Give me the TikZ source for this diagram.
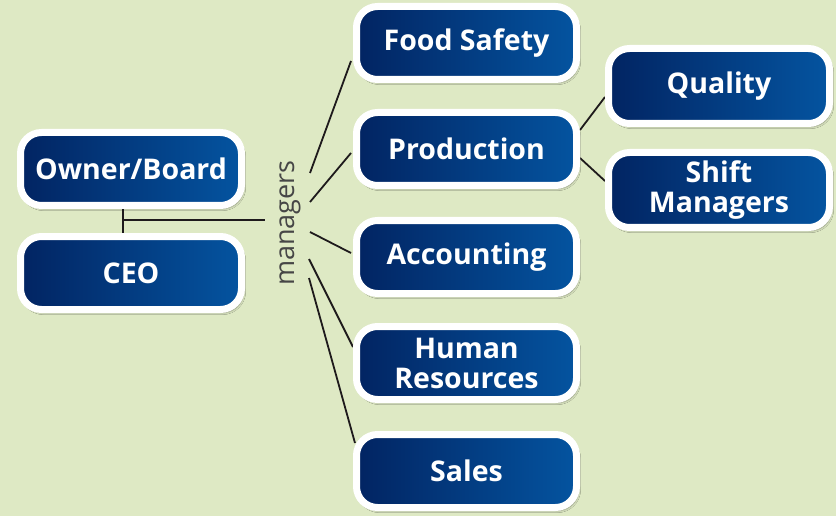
\documentclass[tikz,border=0pt]{standalone}
\usepackage{fontspec}
\setmainfont{Open Sans}
\newfontfamily\mgrfont{Open Sans}
\usetikzlibrary{calc,shadows.blur,backgrounds}
\definecolor{bgcol}{RGB}{222,233,196}
\definecolor{boxleft}{RGB}{2,36,98}
\definecolor{boxright}{RGB}{4,84,160}
\definecolor{linecol}{RGB}{30,26,28}
\definecolor{mgrcol}{RGB}{70,70,70}
\tikzset{
  orgbox/.style={draw=white, line width=7pt, rounded corners=21pt,
    left color=boxleft, right color=boxright,
    minimum width=221pt, minimum height=73pt, inner sep=0pt,
    align=center, text=white, font=\bfseries\fontsize{28.5}{28.5}\selectfont,
    blur shadow={shadow xshift=2pt, shadow yshift=-3pt, shadow opacity=45, shadow blur steps=6}},
  twoline/.style={font=\bfseries\fontsize{28.5}{30}\selectfont},
  link/.style={draw=linecol, line width=1.8pt}
}
\begin{document}
\begin{tikzpicture}[x=1pt,y=-1pt]
\useasboundingbox (0,0) rectangle (836,516);
% left column
\node[orgbox] (ob) at (131,169) {Owner/Board};
\node[orgbox] (ceo) at (131,273) {CEO};
% middle column
\node[orgbox,minimum width=220pt] (fs) at (466.5,43) {Food Safety};
\node[orgbox,minimum width=220pt] (pr) at (466.5,149) {Production};
\node[orgbox,minimum width=220pt] (ac) at (466.5,257) {Accounting};
\node[orgbox,minimum width=220pt,twoline] (hr) at (466.5,363) {Human\\Resources};
\node[orgbox,minimum width=220pt] (sa) at (466.5,471) {Sales};
% right column
\node[orgbox,minimum height=75pt] (q) at (719,86) {Quality};
\node[orgbox,minimum height=75pt,twoline] (sm) at (719,190) {Shift\\Managers};
% managers label
\node[rotate=90, text=mgrcol, font=\mgrfont\fontsize{27}{27}\selectfont, inner sep=0pt] (mg) at (290,223) {managers};
% coordinates
\coordinate (m1) at (310,173);
\coordinate (m2) at (310,202);
\coordinate (m3) at (310,232);
\coordinate (m4) at (309,259);
\coordinate (m5) at (309,278);
\coordinate (hend) at (265,220);
\begin{scope}[on background layer]
\fill[bgcol] (0,0) rectangle (836,516);
\draw[link] (m1) -- ($(fs.west)+(-2,18)$);
\draw[link] (m2) -- ($(pr.west)+(-2,4)$);
\draw[link] (m3) -- ($(ac.west)+(-2,-4)$);
\draw[link] (m4) -- ($(hr.west)+(0,-16)$);
\draw[link] (m5) -- ($(sa.west)+(2,-28)$);
\draw[link] ($(pr.east)+(0,-19)$) -- ($(q.west)+(0,11)$);
\draw[link] ($(pr.east)+(0,9)$) -- ($(sm.west)+(0,-9)$);
\draw[link] (ob.south -| 123,0) -- (ceo.north -| 123,0);
\draw[link] (123,220) -- (hend);
\end{scope}
\end{tikzpicture}
\end{document}
